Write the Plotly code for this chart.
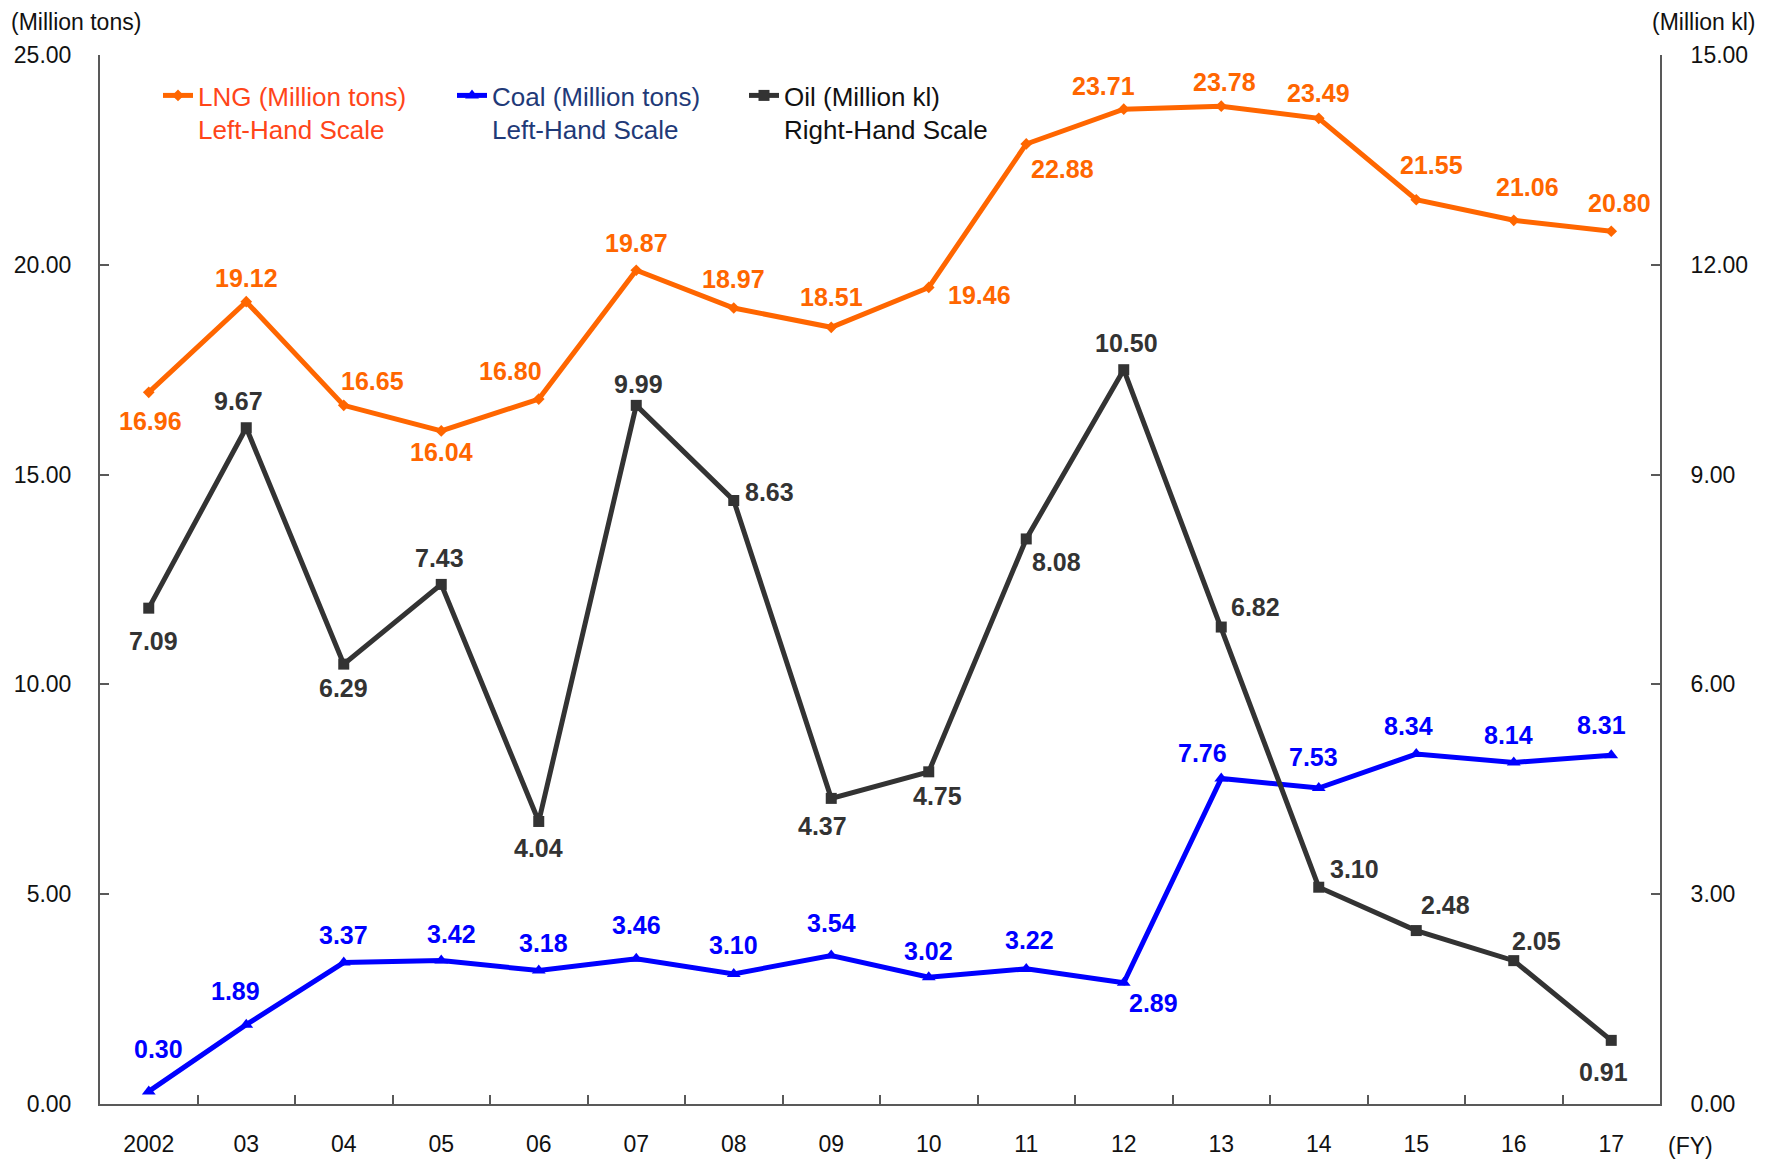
import plotly.graph_objects as go

# ---------------- data ----------------
years = ["2002", "03", "04", "05", "06", "07", "08", "09", "10", "11", "12", "13", "14", "15", "16", "17"]
lng = [16.96, 19.12, 16.65, 16.04, 16.80, 19.87, 18.97, 18.51, 19.46, 22.88, 23.71, 23.78, 23.49, 21.55, 21.06, 20.80]
coal = [0.30, 1.89, 3.37, 3.42, 3.18, 3.46, 3.10, 3.54, 3.02, 3.22, 2.89, 7.76, 7.53, 8.34, 8.14, 8.31]
oil = [7.09, 9.67, 6.29, 7.43, 4.04, 9.99, 8.63, 4.37, 4.75, 8.08, 10.50, 6.82, 3.10, 2.48, 2.05, 0.91]

left_ticks = [0, 5, 10, 15, 20, 25]
right_ticks = [0, 3, 6, 9, 12, 15]

# label offsets (pixels, dx right, dy down)
lng_off = [(2, 29), (0, -24), (29, -24), (0, 21), (-28, -28), (0, -27), (0, -29), (0, -30),
           (51, 8), (36, 25), (-20, -23), (3, -24), (0, -25), (15, -35), (14, -33), (8, -28)]
coal_off = [(10, -42), (-11, -34), (0, -28), (10, -27), (5, -28), (0, -34), (0, -29), (0, -32),
            (0, -26), (3, -29), (30, 20), (-19, -25), (-5, -31), (-8, -28), (-5, -27), (-10, -30)]
oil_off = [(5, 33), (-8, -27), (0, 24), (-2, -26), (0, 27), (2, -21), (36, -8), (-9, 28),
           (9, 24), (30, 23), (3, -27), (34, -20), (36, -18), (29, -26), (23, -20), (-8, 32)]

# ---------------- style ----------------
OFF = 8  # page body margin
W, H = 1772 - 2 * OFF, 1168 - 2 * OFF
PL, PR, PT, PB = 100, 1660, 55, 1104  # plot box in reference pixels
ML, MT = PL - OFF, PT - OFF
MR, MB = W - (PR - OFF), H - (PB - OFF)
PW, PH = PR - PL, PB - PT
FONT = "Liberation Sans, Arial, sans-serif"
LNG_C, LNG_TXT, LNG_LEG = "#FF6600", "#FF6600", "#FF4519"
COAL_C, COAL_TXT, COAL_LEG = "#0000FF", "#0000FF", "#1F3A78"
OIL_C, OIL_TXT, OIL_LEG = "#333333", "#333333", "#111111"
AX_C = "#595959"


def px_x(p):
    return (p - PL) / PW


def px_y(p):
    return (PB - p) / PH


fig = go.Figure()
fig.add_trace(go.Scatter(
    x=years, y=lng, mode="lines+markers", name="LNG (Million tons)<br>Left-Hand Scale",
    line=dict(color=LNG_C, width=5), marker=dict(symbol="diamond", size=9, color=LNG_C),
    legend="legend", yaxis="y"))
fig.add_trace(go.Scatter(
    x=years, y=coal, mode="lines+markers", name="Coal (Million tons)<br>Left-Hand Scale",
    line=dict(color=COAL_C, width=5), marker=dict(symbol="triangle-up", size=12, color=COAL_C),
    legend="legend2", yaxis="y"))
fig.add_trace(go.Scatter(
    x=years, y=oil, mode="lines+markers", name="Oil (Million kl)<br>Right-Hand Scale",
    line=dict(color=OIL_C, width=5), marker=dict(symbol="square", size=11, color=OIL_C),
    legend="legend3", yaxis="y2"))

annotations = []
for vals, offs, col, yref in [(lng, lng_off, LNG_TXT, "y"), (coal, coal_off, COAL_TXT, "y"),
                              (oil, oil_off, OIL_TXT, "y2")]:
    for i, (v, (dx, dy)) in enumerate(zip(vals, offs)):
        annotations.append(dict(
            x=i, y=v, xref="x", yref=yref, text="<b>%.2f</b>" % v, showarrow=False,
            xshift=dx, yshift=-dy, font=dict(family=FONT, size=25, color=col),
            xanchor="center", yanchor="middle"))

annotations += [
    dict(x=px_x(10), y=px_y(OFF), xref="paper", yref="paper", text="(Million tons)", showarrow=False,
         xanchor="left", yanchor="top", borderpad=0,
         font=dict(family=FONT, size=23, color="#111111")),
    dict(x=px_x(1757), y=px_y(OFF), xref="paper", yref="paper", text="(Million kl)", showarrow=False,
         xanchor="right", yanchor="top", borderpad=0,
         font=dict(family=FONT, size=23, color="#111111")),
    dict(x=px_x(1690), y=px_y(1168 - OFF), xref="paper", yref="paper", text="(FY)", showarrow=False,
         xanchor="center", yanchor="bottom", borderpad=0,
         font=dict(family=FONT, size=23, color="#111111")),
]

leg_common = dict(orientation="v", xanchor="left", yanchor="top", bgcolor="rgba(0,0,0,0)",
                  valign="top", itemwidth=30, tracegroupgap=0)
fig.update_layout(
    width=W, height=H,
    margin=dict(l=ML, r=MR, t=MT, b=MB, autoexpand=False),
    paper_bgcolor="white", plot_bgcolor="white",
    font=dict(family=FONT, size=23, color="#111111"),
    xaxis=dict(type="category", range=[-0.5, 15.5], showline=True, linecolor=AX_C, linewidth=2,
               ticks="inside", ticklen=9, tickcolor=AX_C, tickwidth=1.5, tickson="boundaries",
               showgrid=False, zeroline=False, tickfont=dict(size=23, color="#111111"),
               ticklabelstandoff=18),
    yaxis=dict(range=[0, 25], tickvals=left_ticks, tickformat=".2f", showline=True, linecolor=AX_C,
               linewidth=2, ticks="inside", ticklen=9, tickcolor=AX_C, tickwidth=1.5,
               showgrid=False, zeroline=False, tickfont=dict(size=23, color="#111111"),
               ticklabelstandoff=22),
    yaxis2=dict(range=[0, 15], tickvals=right_ticks, tickformat=".2f", overlaying="y", side="right",
                showline=True, linecolor=AX_C, linewidth=2, ticks="inside", ticklen=9,
                tickcolor=AX_C, tickwidth=1.5, showgrid=False, zeroline=False,
                tickfont=dict(size=23, color="#111111"), ticklabelstandoff=24),
    legend=dict(x=px_x(158), y=px_y(72), font=dict(family=FONT, size=26, color=LNG_LEG), **leg_common),
    legend2=dict(x=px_x(452), y=px_y(72), font=dict(family=FONT, size=26, color=COAL_LEG), **leg_common),
    legend3=dict(x=px_x(744), y=px_y(72), font=dict(family=FONT, size=26, color=OIL_LEG), **leg_common),
    annotations=annotations,
    showlegend=True,
)

fig.write_html("out.html")
